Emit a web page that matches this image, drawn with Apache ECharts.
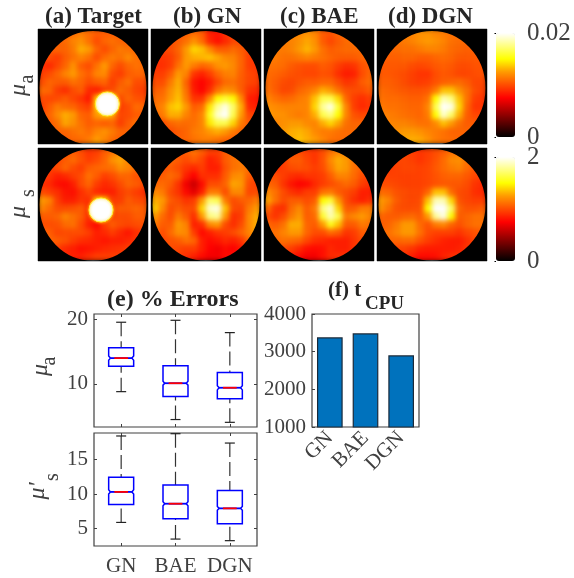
<!DOCTYPE html>
<html><head><meta charset="utf-8">
<style>html,body{margin:0;padding:0;background:#fff}#c{width:574px;height:578px}</style>
<script src="https://cdn.jsdelivr.net/npm/echarts@6/dist/echarts.min.js"></script>
</head><body><div id="c"></div>
<script>
// ---- Reconstruction maps: rows top to bottom; mu_a in 1e-4 units, mu_s in 1e-2 units ----
const muATarget=[[105,105,105,105,110,115,110,105,105,105,105,105,105,105],[105,105,105,110,118,122,112,100,108,112,108,105,105,105],[105,105,108,108,115,130,125,108,100,108,115,112,108,105],[100,100,95,105,112,118,112,100,110,115,112,120,112,108],[90,88,98,108,122,105,100,112,125,108,100,108,112,110],[95,100,108,118,125,112,105,118,120,100,95,105,108,108],[100,108,105,105,112,108,100,105,108,95,105,112,100,100],[110,108,95,90,100,105,88,85,95,100,110,105,98,95],[100,98,100,105,98,92,82,130,140,130,100,108,102,100],[95,105,115,110,108,100,95,130,140,130,95,100,110,108],[100,108,120,130,125,108,105,125,130,125,98,100,105,105],[100,105,112,128,122,112,105,108,105,108,95,105,112,105],[100,105,108,108,112,115,110,118,122,115,108,108,105,105],[105,105,105,105,108,110,115,125,118,110,105,105,105,105]];
const muAGN=[[100,100,100,100,105,110,105,85,82,90,100,100,100,100],[100,100,100,105,112,122,110,88,80,88,98,100,100,100],[98,98,100,108,125,140,135,120,105,105,110,105,98,98],[92,92,95,105,125,130,132,135,128,120,118,108,95,92],[90,90,95,112,125,115,108,112,122,125,120,108,95,92],[95,95,105,125,118,92,86,95,108,116,118,106,98,95],[100,100,115,130,108,82,76,84,98,110,112,105,98,95],[105,108,122,132,112,84,76,90,112,122,120,106,92,88],[110,112,125,135,115,92,92,120,150,160,150,120,85,82],[112,118,135,140,125,105,110,145,180,195,170,130,88,85],[108,115,130,130,118,110,118,155,190,200,165,125,98,95],[98,100,108,112,110,112,118,145,165,165,140,115,105,102],[98,98,100,105,108,115,118,125,130,125,115,108,105,105],[100,100,100,105,108,112,115,115,112,108,105,105,105,105]];
const muABAE=[[115,115,115,115,118,122,118,105,102,108,112,112,112,112],[115,115,115,118,122,128,122,105,98,105,110,112,112,112],[115,115,115,118,125,132,125,112,105,108,110,110,110,110],[115,115,112,112,115,118,115,112,108,105,105,105,108,108],[112,112,110,105,102,100,100,105,102,95,90,92,102,105],[110,108,105,102,100,98,98,102,100,90,84,86,100,108],[110,105,100,98,102,105,105,108,108,100,92,95,105,110],[112,105,98,100,108,112,118,130,125,112,102,100,100,105],[118,112,108,110,115,118,135,165,165,140,108,95,90,95],[122,120,118,118,118,118,140,180,195,160,118,95,88,92],[125,122,122,118,115,118,130,165,175,150,118,102,98,100],[118,118,122,125,125,120,118,130,140,128,112,108,108,108],[118,118,125,130,132,128,120,115,115,112,110,110,110,110],[118,118,125,130,135,130,125,118,112,110,110,110,110,110]];
const muADGN=[[112,112,112,115,118,122,122,118,115,112,112,110,110,110],[112,112,112,115,118,122,125,122,118,112,110,108,108,108],[108,108,110,112,112,115,118,118,115,110,108,106,106,106],[106,106,106,108,108,105,105,108,110,108,104,104,104,104],[104,104,104,104,100,98,100,104,106,104,100,100,102,102],[104,104,102,100,96,92,92,100,104,102,98,98,100,102],[106,106,104,100,96,94,96,102,106,108,110,105,98,98],[110,108,106,104,102,102,104,115,135,135,122,112,100,96],[112,110,110,108,106,106,112,150,185,175,135,112,95,92],[114,112,112,110,108,108,118,165,200,195,140,108,92,92],[118,116,114,112,110,108,115,150,190,170,130,105,98,98],[120,118,118,118,115,112,112,120,135,125,112,105,105,105],[120,120,122,125,125,122,118,115,112,108,108,108,108,108],[120,120,125,128,130,128,122,115,112,110,108,108,108,108]];
const muSTarget=[[100,100,100,100,105,100,92,95,105,112,120,115,105,100],[100,100,98,105,110,102,95,100,108,122,128,118,105,100],[95,95,100,108,100,95,105,108,110,112,122,118,110,105],[95,92,85,88,95,100,112,105,95,100,108,108,102,100],[90,88,80,78,85,100,108,95,88,92,100,108,105,100],[100,95,90,82,80,90,98,88,85,85,95,100,95,90],[125,118,95,85,85,92,90,130,130,95,95,105,100,98],[118,110,100,100,102,105,92,130,130,100,105,105,108,105],[105,105,108,118,112,105,90,120,120,98,100,100,105,105],[100,100,102,110,112,100,85,78,95,105,100,98,100,102],[108,105,98,100,100,100,95,85,88,95,88,82,90,95],[108,108,105,102,95,90,88,85,82,85,85,88,92,95],[100,100,95,88,85,80,82,85,88,90,92,95,95,95],[100,100,95,88,85,85,90,95,95,95,95,95,95,95]];
const muSGN=[[105,105,105,100,105,112,105,95,95,105,110,110,110,110],[105,105,108,105,100,105,98,85,90,105,112,115,112,112],[100,100,105,100,92,88,95,85,85,102,112,115,112,108],[100,105,110,105,85,75,90,90,90,105,120,122,105,100],[108,110,105,92,72,60,78,100,100,108,128,125,100,95],[120,115,100,92,78,68,85,115,115,100,120,120,98,100],[130,125,105,100,92,95,125,170,165,115,100,105,108,115],[138,120,100,105,100,100,140,190,195,135,100,98,115,125],[125,110,100,115,105,90,125,175,180,125,90,95,120,130],[115,105,105,125,118,85,90,120,125,100,90,100,120,130],[110,100,110,122,120,95,78,85,92,95,100,108,118,128],[105,98,102,105,112,108,85,78,82,88,85,92,108,130],[105,100,100,98,95,95,85,75,72,78,75,82,105,120],[105,105,100,95,90,85,78,72,72,78,80,90,110,120]];
const muSBAE=[[95,95,95,100,100,95,92,100,112,118,115,108,102,100],[90,90,95,105,105,98,92,102,120,130,125,112,105,102],[88,90,95,100,102,100,95,100,115,128,125,112,105,100],[100,100,95,90,88,92,92,95,105,118,118,110,100,95],[108,105,92,82,76,78,88,95,100,105,110,105,95,90],[120,112,100,92,88,95,95,112,115,105,100,95,85,85],[128,112,100,105,105,100,105,150,160,125,100,90,85,90],[110,92,90,110,120,105,115,175,190,140,105,105,115,115],[100,92,100,115,125,105,110,160,185,165,115,120,125,118],[108,105,112,130,130,108,105,125,155,135,105,105,115,112],[112,112,118,125,125,108,100,100,110,105,92,95,105,105],[108,108,112,110,108,98,90,88,85,85,85,92,100,100],[105,105,100,95,88,80,78,80,88,85,85,92,100,100],[105,100,95,85,78,72,72,80,88,90,92,95,100,100]];
const muSDGN=[[98,98,98,98,95,92,95,100,105,112,112,108,102,100],[96,96,98,98,96,92,96,102,110,120,122,112,105,100],[94,94,96,98,98,96,98,104,110,115,118,110,102,98],[96,96,96,96,96,96,98,102,106,108,108,104,98,94],[100,100,98,96,96,96,98,102,104,104,104,100,92,88],[110,108,102,100,98,98,108,135,135,110,100,98,90,88],[125,118,105,100,98,100,135,185,185,140,102,98,95,95],[122,112,102,100,100,102,150,200,200,170,108,102,102,105],[108,105,105,108,110,105,125,180,195,150,105,108,112,112],[105,108,115,125,125,110,102,115,120,108,102,108,112,112],[108,112,118,125,125,112,100,96,96,96,92,98,102,105],[105,108,108,110,110,102,95,90,86,84,84,90,98,100],[100,100,98,96,92,86,84,84,84,84,86,92,98,98],[98,98,95,90,84,78,78,80,86,90,92,96,98,98]];
// Inclusions shown in the target panels: [x, y] as fraction of the panel
const inclusionA=[[0.63,0.348]];
const inclusionS=[[0.573,0.451]];
// Colour scale (hot)
const hot=['#000000','#550000','#aa0000','#ff0000','#ff4c00','#ff9a00','#ffff00','#ffff80','#ffffff'];
const mapLabelsA=[0,0.02];
const mapLabelsS=[0,2];
// Box plots [low, q1, notchLow, median, notchHigh, q3, high]
const methods=['GN','BAE','DGN'];
const boxA=[[8.8,12.7,13.65,13.97,14.3,15.57,19.5],[4.5,8.04,9.8,10.1,10.4,12.8,19.8],[4.07,7.7,9.07,9.4,9.7,11.75,17.9]];
const boxS=[[5.9,8.5,10.0,10.3,10.6,12.4,18.37],[3.5,6.44,8.3,8.6,8.9,11.3,18.7],[3.27,5.7,7.64,7.93,8.2,10.5,17.35]];
const boxTicksA=[10,20];
const boxTicksS=[5,10,15];
// CPU time
const cpuTime=[3380,3487,2903];

const INK='#404040',SERIF='"Liberation Serif","Times New Roman",serif';
const panels=[muATarget,muAGN,muABAE,muADGN,muSTarget,muSGN,muSBAE,muSDGN];
const lefts=[38,151,264,377],tops=[29,148],W=110,H=[115,113];
const grid=[],xAxis=[],yAxis=[],series=[],masks=[];
const idx=[...Array(14).keys()];
panels.forEach((m,p)=>{
  const row=p>3?1:0,col=p%4,g=grid.length;
  grid.push({left:lefts[col],top:tops[row],width:W,height:H[row],show:true,backgroundColor:'#000',borderColor:'#8a8a8a',borderWidth:1});
  const xc=xAxis.length,yc=yAxis.length;
  xAxis.push({type:'category',gridIndex:g,data:idx,show:false},{type:'value',gridIndex:g,min:0,max:1,show:false});
  yAxis.push({type:'category',gridIndex:g,data:idx,show:false},{type:'value',gridIndex:g,min:0,max:1,show:false});
  const data=[];m.forEach((r,i)=>r.forEach((v,j)=>data.push([j,13-i,v])));
  series.push({type:'heatmap',xAxisIndex:xc,yAxisIndex:yc,data,zlevel:1,silent:true,progressive:0,animation:false});
  masks.push({type:'custom',xAxisIndex:xc+1,yAxisIndex:yc+1,zlevel:2,clip:true,silent:true,animation:false,data:[[0.5,row?0.497:0.487]],
    renderItem(params,api){
      const c=api.coord([api.value(0),api.value(1)]),s=api.size([0.486,0.495]),w=70;
      return {type:'ellipse',shape:{cx:c[0],cy:c[1],rx:s[0]+w/2,ry:s[1]+w/2},style:{fill:null,stroke:'#000',lineWidth:w}};
    }});
  if(p===0||p===4) masks.push({type:'scatter',xAxisIndex:xc+1,yAxisIndex:yc+1,zlevel:2,silent:true,animation:false,
    data:p?inclusionS:inclusionA,symbolSize:24,itemStyle:{opacity:1,color:'#fff',borderColor:'#ffee33',borderWidth:1,shadowBlur:3,shadowColor:'#ffcc00'}});
});
series.push(...masks);
// colour bars with their axis
[[33,104,mapLabelsA],[157,104,mapLabelsS]].forEach(([t,h,ticks])=>{
  const g=grid.length;
  grid.push({left:496,top:t,width:19,height:h});
  xAxis.push({type:'value',gridIndex:g,show:false,min:0,max:1});
  yAxis.push({type:'value',gridIndex:g,position:'right',min:ticks[0],max:ticks[1],
    splitLine:{show:false},axisLine:{show:false},axisTick:{show:true,inside:true,length:1.5,customValues:ticks,lineStyle:{color:'#000'}},
    axisLabel:{customValues:ticks,margin:12,color:INK,fontFamily:SERIF,fontSize:25}});
});
// box plots
function boxSeries(rows,gridIdx,xi,yi){
  return {type:'custom',xAxisIndex:xi,yAxisIndex:yi,silent:true,animation:false,clip:true,zlevel:3,
    data:rows.map((r,i)=>[i,...r]),
    renderItem(params,api){
      const x=api.value(0),v=k=>api.coord([x,api.value(k)]),cx=v(1)[0],y=k=>v(k)[1];
      const band=api.size([1,0])[0],hw=band*0.23,cap=5,nh=hw*0.86,med=hw*0.55;
      const [lo,q1,nl,m,nh2,q3,hi]=[1,2,3,4,5,6,7].map(y);
      const black={stroke:'#222',lineWidth:1.2};
      const dash={stroke:'#333',lineWidth:1.2,lineDash:[14,5]};
      const blue={stroke:'#0000ff',lineWidth:1.5,fill:null};
      const line=(x1,y1,x2,y2,s)=>({type:'line',shape:{x1,y1,x2,y2},style:s});
      return {type:'group',children:[
        line(cx,hi,cx,q3,dash),line(cx,lo,cx,q1,dash),
        line(cx-cap,hi,cx+cap,hi,black),line(cx-cap,lo,cx+cap,lo,black),
        {type:'polygon',shape:{points:[[cx-hw,q1],[cx+hw,q1],[cx+hw,nl],[cx+nh,m],[cx+hw,nh2],[cx+hw,q3],[cx-hw,q3],[cx-hw,nh2],[cx-nh,m],[cx-hw,nl]]},style:blue},
        line(cx-nh,m,cx+nh,m,{stroke:'#0000ff',lineWidth:1.8}),
        line(cx-med,m,cx+med,m,{stroke:'#ff0000',lineWidth:1.8})
      ]};
    }};
}
const frame={show:true,borderColor:'#404040',borderWidth:1.2,backgroundColor:'#fff'};
const tick={show:true,inside:true,length:3,lineStyle:{color:'#404040'}};
const lab={color:INK,fontFamily:SERIF,fontSize:21};
[[314,113,3.35,20.77,boxTicksA,boxA,false],[433,113,2.5,18.8,boxTicksS,boxS,true]].forEach(([t,h,mn,mx,ticks,rows,showX])=>{
  const g=grid.length,xi=xAxis.length,yi=yAxis.length;
  grid.push({left:94,top:t,width:163,height:h,...frame});
  xAxis.push({type:'category',gridIndex:g,data:methods,axisLine:{show:false},axisTick:{...tick,alignWithLabel:true},axisLabel:{...lab,show:showX,margin:10,interval:0},splitLine:{show:false}});
  xAxis.push({type:'category',gridIndex:g,position:'top',data:methods,axisLine:{show:false},axisTick:{...tick,alignWithLabel:true},axisLabel:{show:false},splitLine:{show:false}});
  yAxis.push({type:'value',gridIndex:g,min:mn,max:mx,splitLine:{show:false},axisLine:{show:false},axisTick:{...tick,customValues:ticks},axisLabel:{...lab,customValues:ticks,margin:6}});
  yAxis.push({type:'value',gridIndex:g,position:'right',min:mn,max:mx,splitLine:{show:false},axisLine:{show:false},axisTick:{...tick,customValues:ticks},axisLabel:{show:false}});
  series.push(boxSeries(rows,g,xi,yi));
});
// CPU bars
{
  const g=grid.length;
  grid.push({left:312,top:314,width:107,height:113,...frame,backgroundColor:'transparent'});
  const xi=xAxis.length,yi=yAxis.length;
  xAxis.push({type:'category',gridIndex:g,data:methods,axisLine:{show:false},axisTick:{show:false},axisLabel:{...lab,rotate:45,margin:8,interval:0}});
  yAxis.push({type:'value',gridIndex:g,min:1000,max:4000,interval:1000,splitLine:{show:false},axisLine:{show:false},axisTick:{...tick},axisLabel:{...lab,margin:6,formatter:v=>String(v)}});
  series.push({type:'bar',xAxisIndex:xi,yAxisIndex:yi,data:cpuTime,barWidth:'72%',silent:true,animation:false,zlevel:3,itemStyle:{color:'#0072BD',borderColor:'#1a2a3a',borderWidth:1.2}});
}
function head(text,left,top,size){return {text,left,top,padding:0,textStyle:{fontFamily:SERIF,fontWeight:'bold',fontSize:size||23,color:'#262626'}};}
const rotLabel=(x,y,text,size,italic)=>({type:'text',x,y,rotation:Math.PI/2,silent:true,style:{text,align:'center',verticalAlign:'middle',fill:INK,font:(italic?'italic ':'')+size+'px '+SERIF}});
const option={
  animation:false,backgroundColor:'#fff',tooltip:{show:false},
  title:[head('(a) Target',45,6),head('(b) GN',173,6),head('(c) BAE',280,6),head('(d) DGN',388,6),
         head('(e) % Errors',107,288,24),head('(f) t',328,280,21),head('CPU',365,295,19)],
  grid,xAxis,yAxis,series,
  visualMap:[
    {type:'continuous',seriesIndex:[0,1,2,3],min:0,max:200,left:496,top:33,padding:0,itemWidth:19,itemHeight:104,text:null,calculable:false,inRange:{color:hot},zlevel:0},
    {type:'continuous',seriesIndex:[4,5,6,7],min:0,max:200,left:496,top:157,padding:0,itemWidth:19,itemHeight:104,text:null,calculable:false,inRange:{color:hot},zlevel:0}
  ],
  graphic:[
    rotLabel(19,90,'μ',24,true),rotLabel(28,79,'a',20,false),
    rotLabel(19,212,'μ',24,true),rotLabel(29,193,'s',20,false),
    rotLabel(41,370,'μ',24,true),rotLabel(50,361,'a',20,false),
    rotLabel(38,491,"μ'",24,true),rotLabel(53,477,'s',20,false)
  ]
};
const chart=echarts.init(document.getElementById('c'),null,{renderer:'canvas'});
chart.setOption(option);
const clip=[];
lefts.forEach(l=>tops.forEach((t,r)=>clip.push(`M${l+1} ${t+1}h${W-2}v${H[r]-2}h-${W-2}z`)));
const layer=document.querySelector('canvas[data-zr-dom-id="zr_1"]');
if(layer){layer.style.filter='blur(2.4px)';layer.style.clipPath=`path("${clip.join('')}")`;}
</script></body></html>
